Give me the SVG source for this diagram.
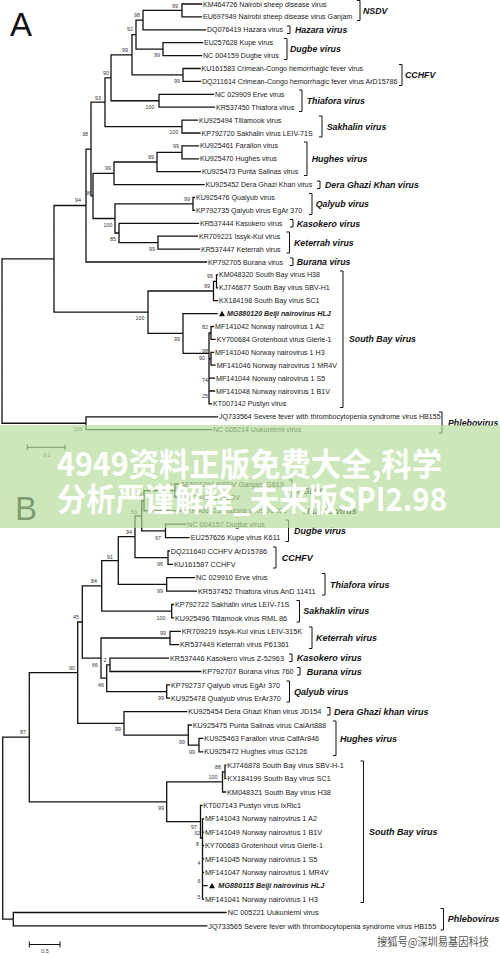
<svg xmlns="http://www.w3.org/2000/svg" width="500" height="954" viewBox="0 0 500 954">
<style>
.bg{fill:#fff}
.e{fill:none;stroke:#111;stroke-width:1.3;stroke-linecap:square}
.br{fill:none;stroke:#111;stroke-width:1}
.t{font-family:"Liberation Sans",Arial,sans-serif;font-size:7.1px;fill:#1a1a1a}
.tb{font-size:7.3px}
.bi{font-weight:bold;font-style:italic}
.c{font-family:"Liberation Sans",Arial,sans-serif;font-size:8.8px;font-weight:bold;font-style:italic;fill:#111}
.cb{font-size:9px}
.bs{font-family:"Liberation Sans",Arial,sans-serif;font-size:5.3px;fill:#333;text-anchor:middle}
.pl{font-family:"Liberation Sans",Arial,sans-serif;font-size:33px;fill:#111}
.wm{font-family:"Noto Sans CJK SC","Noto Sans",sans-serif;font-weight:bold;font-size:32px;fill:#fff}
</style>
<rect class="bg" x="0" y="0" width="500" height="954"/>
<text class="pl" x="10" y="36">A</text>
<text class="pl" x="15" y="520">B</text>

<g id="connectors">
<path class="e" d="
M2,258.85V423.25 M2,258.85H54 M2,423.25H86
M86,416.8V429.7 M86,416.8H217.5 M86,429.7H211.5
M54,205.5V312.2 M54,205.5H86 M54,312.2H148
M86,149.05V262 M86,149.05H91 M86,262H206.5
M91,102.2V195.9 M91,102.2H105 M91,195.9H93
M93,173.3V218.5 M93,173.3H114 M93,218.5H115
M115,203.95V233 M115,203.95H193 M115,233H119
M119,223.3V242.65 M119,223.3H198.5 M119,242.65H158
M158,236.2V249.1 M158,236.2H197.5 M158,249.1H199.5
M193,197.5V210.4 M193,197.5H194.5 M193,210.4H194.5
M114,162V184.6 M114,162H157 M114,184.6H204
M157,152.35V171.7 M157,152.35H182 M157,171.7H200.5
M182,145.9V158.8 M182,145.9H198.5 M182,158.8H198.5
M105,77.8V126.55 M105,77.8H111 M105,126.55H182
M182,120.1V133 M182,120.1H197.5 M182,133H200
M111,54.8V100.75 M111,54.8H132 M111,100.75H159
M159,94.3V107.2 M159,94.3H213.5 M159,107.2H214.5
M132,34.6V74.95 M132,34.6H136 M132,74.95H183
M183,68.5V81.4 M183,68.5H200 M183,81.4H200.5
M136,20.1V49.15 M136,20.1H143 M136,49.15H163
M163,42.7V55.6 M163,42.7H202.5 M163,55.6H201.5
M143,10.45V29.8 M143,10.45H182 M143,29.8H205.5
M182,4V16.9 M182,4H201.5 M182,16.9H201.5
M148,291V333.45 M148,291H213.5 M148,333.45H183
M213.5,281.35V300.7 M213.5,281.35H216.5 M213.5,300.7H217.5
M216.5,274.9V287.8 M216.5,274.9H217.5 M216.5,287.8H217.5
M183,313.6V353.3 M183,313.6H217 M183,353.3H209
M211,326.5V339.4 M209,333H211 M209,333V403.9
M211,326.5H213.5 M211,339.4H215 M211,352.3V365.2 M209,358.75H211 M211,352.3H213.5 M211,365.2H215
M209,378.1H214.5 M209,391H214.5 M209,403.9H211.5
"/>
<path class="e" d="
M2.7,737.2V919.2 M2.7,737.2H29.3 M2.7,919.2H13.3
M13.3,912.5V925.9 M13.3,912.5H226 M13.3,925.9H206.8
M29.3,672.65V801.8 M29.3,672.65H77.7 M29.3,801.8H166.7
M77.7,622V723.3 M77.7,622H82.3 M77.7,723.3H124
M82.3,585.9V658.1 M82.3,585.9H101.7 M82.3,658.1H101
M101.7,560.55V611.2 M101.7,560.55H118.3 M101.7,611.2H171.7
M118.3,536.7V584.4 M118.3,536.7H135 M118.3,584.4H166.7
M135,515.8V557.65 M135,515.8H141.7 M135,557.65H168
M141.7,500.75V530.9 M141.7,500.75H144 M141.7,530.9H165.5
M144,490.7V510.8 M144,490.7H175 M144,510.8H185.5
M175,484V497.4 M175,484H179 M175,497.4H179.5
M165.5,524.2V537.6 M165.5,524.2H185.5 M165.5,537.6H189
M168,551V564.3 M168,551H169.2 M168,564.3H172.5
M166.7,577.7V591.1 M166.7,577.7H194.5 M166.7,591.1H196.5
M171.7,604.5V617.9 M171.7,604.5H173.5 M171.7,617.9H173.5
M101,638V678.2 M101,638H170 M101,678.2H106.7
M170,631.3V644.7 M170,631.3H180.2 M170,644.7H178.5
M106.7,664.8V691.55 M106.7,664.8H110 M106.7,691.55H166.7
M110,658.1V671.5 M110,658.1H168.5 M110,671.5H200.8
M166.7,684.9V698.2 M166.7,684.9H169.5 M166.7,698.2H169.5
M124,711.6V735.05 M124,711.6H186.8 M124,735.05H188.3
M188.3,725V745.1 M188.3,725H191.2 M188.3,745.1H199
M199,738.4V751.8 M199,738.4H202.8 M199,751.8H202.8
M166.7,781.95V821.7 M166.7,781.95H222.5 M166.7,821.7H200.5
M222.5,771.9V792 M222.5,771.9H225 M222.5,792H225.5
M225,765.2V778.6 M225,765.2H225.8 M225,778.6H225.8
M200.5,805.4V838 M200.5,805.4H202 M200.5,838H202.5
M202.5,818.8V899.1 M202.5,818.8H203.5 M202.5,832.1H203.5 M202.5,845.5H203.5 M202.5,858.9H203.5 M202.5,872.3H203.5 M202.5,885.7H207 M202.5,899.1H203.5
"/>
<path class="br" d="M27.3,447.3H65 M27.3,444.5V450 M65,444.5V450 M29.3,944.5H60 M29.3,941.5V947.5 M60,941.5V947.5" stroke-width="1.2"/>
<polygon points="219,316.2 222,310.8 225,316.2" fill="#111"/>
<polygon points="209,888.3 212,882.9 215,888.3" fill="#111"/>
</g>

<g id="bootstrap">
<text class="bs" x="175" y="8">99</text>
<text class="bs" x="137" y="17">98</text>
<text class="bs" x="130" y="31">92</text>
<text class="bs" x="157" y="57">99</text>
<text class="bs" x="125" y="52">99</text>
<text class="bs" x="177" y="83">99</text>
<text class="bs" x="106" y="75">90</text>
<text class="bs" x="150" y="109">100</text>
<text class="bs" x="98" y="100">93</text>
<text class="bs" x="174" y="134">100</text>
<text class="bs" x="85" y="136">38</text>
<text class="bs" x="176" y="148">99</text>
<text class="bs" x="151" y="159">99</text>
<text class="bs" x="108" y="170">99</text>
<text class="bs" x="78" y="202">94</text>
<text class="bs" x="88" y="195">36</text>
<text class="bs" x="187" y="201">99</text>
<text class="bs" x="108" y="227">100</text>
<text class="bs" x="113" y="241">85</text>
<text class="bs" x="152" y="251">99</text>
<text class="bs" x="210" y="278">95</text>
<text class="bs" x="207" y="288">99</text>
<text class="bs" x="140" y="320">100</text>
<text class="bs" x="177" y="341">99</text>
<text class="bs" x="205" y="329">82</text>
<text class="bs" x="205" y="353">98</text>
<text class="bs" x="202" y="360">90</text>
<text class="bs" x="205" y="382">74</text>
<text class="bs" x="205" y="398">25</text>
<text class="bs" x="78" y="431">100</text>
<text class="bs" x="47" y="457">0.1</text>
<text class="bs" x="170" y="487">95</text>
<text class="bs" x="139" y="496">99</text>
<text class="bs" x="134" y="514">53</text>
<text class="bs" x="158" y="540">97</text>
<text class="bs" x="129" y="534">94</text>
<text class="bs" x="160" y="566">96</text>
<text class="bs" x="110" y="559">91</text>
<text class="bs" x="160" y="593">99</text>
<text class="bs" x="94" y="583">84</text>
<text class="bs" x="161" y="620">100</text>
<text class="bs" x="76" y="619">45</text>
<text class="bs" x="163" y="635">99</text>
<text class="bs" x="95" y="667">66</text>
<text class="bs" x="105" y="662">2</text>
<text class="bs" x="101" y="687">46</text>
<text class="bs" x="161" y="700">99</text>
<text class="bs" x="72" y="670">90</text>
<text class="bs" x="118" y="731">99</text>
<text class="bs" x="182" y="744">99</text>
<text class="bs" x="192" y="754">99</text>
<text class="bs" x="23" y="734">87</text>
<text class="bs" x="218" y="769">88</text>
<text class="bs" x="213" y="779">100</text>
<text class="bs" x="161" y="810">99</text>
<text class="bs" x="194" y="829">97</text>
<text class="bs" x="197" y="835">32</text>
<text class="bs" x="197.5" y="846">8</text>
<text class="bs" x="199" y="865">4</text>
<text class="bs" x="199" y="883">6</text>
<text class="bs" x="199" y="899">5</text>
<text class="bs" x="45" y="953">0.5</text>
</g>

<g id="tipsA">
<g id="a0"><text class="t" x="203" y="6.5">KM464726 Nairobi sheep disease virus</text></g>
<g id="a1"><text class="t" x="203" y="19.4">EU697949 Nairobi sheep disease virus Ganjam</text></g>
<g id="a2"><text class="t" x="207" y="32.3">DQ076419 Hazara virus</text></g>
<g id="a3"><text class="t" x="204" y="45.2">EU257628 Kupe virus</text></g>
<g id="a4"><text class="t" x="203" y="58.1">NC 004159 Dugbe virus</text></g>
<g id="a5"><text class="t" x="201.5" y="71">KU161583 Crimean-Congo hemorrhagic fever virus</text></g>
<g id="a6"><text class="t" x="202" y="83.9">DQ211614 Crimean-Congo hemorrhagic fever virus ArD15786</text></g>
<g id="a7"><text class="t" x="215" y="96.8">NC 029909 Erve virus</text></g>
<g id="a8"><text class="t" x="216" y="109.7">KR537450 Thiafora virus</text></g>
<g id="a9"><text class="t" x="199" y="122.6">KU925494 Tillamook virus</text></g>
<g id="a10"><text class="t" x="201.5" y="135.5">KP792720 Sakhalin virus LEIV-71S</text></g>
<g id="a11"><text class="t" x="200" y="148.4">KU925461 Farallon virus</text></g>
<g id="a12"><text class="t" x="200" y="161.3">KU925470 Hughes virus</text></g>
<g id="a13"><text class="t" x="202" y="174.2">KU925473 Punta Salinas virus</text></g>
<g id="a14"><text class="t" x="205.5" y="187.1">KU925452 Dera Ghazi Khan virus</text></g>
<g id="a15"><text class="t" x="196" y="200">KU925476 Qualyub virus</text></g>
<g id="a16"><text class="t" x="196" y="212.9">KP792735 Qalyub virus EgAr 370</text></g>
<g id="a17"><text class="t" x="200" y="225.8">KR537444 Kasokero virus</text></g>
<g id="a18"><text class="t" x="199" y="238.7">KR709221 Issyk-Kul virus</text></g>
<g id="a19"><text class="t" x="201" y="251.6">KR537447 Keterrah virus</text></g>
<g id="a20"><text class="t" x="208" y="264.5">KP792705 Burana virus</text></g>
<g id="a21"><text class="t" x="219" y="277.4">KM048320 South Bay virus H38</text></g>
<g id="a22"><text class="t" x="219" y="290.3">KJ746877 South Bay virus SBV-H1</text></g>
<g id="a23"><text class="t" x="219" y="303.2">KX184198 South Bay virus SC1</text></g>
<g id="a24"><text class="t bi" x="227" y="316.1">MG880120 Beiji nairovirus HLJ</text></g>
<g id="a25"><text class="t" x="215" y="329">MF141042 Norway nairovirus 1 A2</text></g>
<g id="a26"><text class="t" x="216.7" y="341.9">KY700684 Grotenhout virus Gierle-1</text></g>
<g id="a27"><text class="t" x="215" y="354.8">MF141040 Norway nairovirus 1 H3</text></g>
<g id="a28"><text class="t" x="216.7" y="367.7">MF141046 Norway nairovirus 1 MR4V</text></g>
<g id="a29"><text class="t" x="216" y="380.6">MF141044 Norway nairovirus 1 S5</text></g>
<g id="a30"><text class="t" x="216" y="393.5">MF141048 Norway nairovirus 1 B1V</text></g>
<g id="a31"><text class="t" x="213" y="406.4">KT007142 Pustyn virus</text></g>
<g id="a32"><text class="t" x="219" y="419.3">JQ733564 Severe fever with thrombocytopenia syndrome virus HB155</text></g>
<g id="a33"><text class="t" x="213" y="432.2">NC 005214 Uukuniemi virus</text></g>
</g>

<g id="tipsB">
<g id="b0"><text class="t tb" x="180.5" y="486.6">AF504294 NSDV Ganjam G619</text></g>
<g id="b1"><text class="t tb" x="181" y="500">NC 034521 NSDV</text></g>
<g id="b2"><text class="t tb" x="187" y="513.4">KP406725 Hazara virus JC280</text></g>
<g id="b3"><text class="t tb" x="187" y="526.8">NC 004157 Dugbe virus</text></g>
<g id="b4"><text class="t tb" x="190.7" y="540.2">EU257626 Kupe virus K611</text></g>
<g id="b5"><text class="t tb" x="170.7" y="553.6">DQ211640 CCHFV ArD15786</text></g>
<g id="b6"><text class="t tb" x="174" y="566.9">KU161587 CCHFV</text></g>
<g id="b7"><text class="t tb" x="196" y="580.3">NC 029910 Erve virus</text></g>
<g id="b8"><text class="t tb" x="198" y="593.7">KR537452 Thiafora virus AnD 11411</text></g>
<g id="b9"><text class="t tb" x="175" y="607.1">KP792722 Sakhalin virus LEIV-71S</text></g>
<g id="b10"><text class="t tb" x="175" y="620.5">KU925496 Tillamook virus RML 86</text></g>
<g id="b11"><text class="t tb" x="181.7" y="633.9">KR709219 Issyk-Kul virus LEIV-315K</text></g>
<g id="b12"><text class="t tb" x="180" y="647.3">KR537449 Keterrah virus P61361</text></g>
<g id="b13"><text class="t tb" x="170" y="660.7">KR537446 Kasokero virus Z-52963</text></g>
<g id="b14"><text class="t tb" x="202.3" y="674.1">KP792707 Burana virus 760</text></g>
<g id="b15"><text class="t tb" x="171" y="687.5">KP792737 Qalyub virus EgAr 370</text></g>
<g id="b16"><text class="t tb" x="171" y="700.8">KU925478 Qualyub virus ErAr370</text></g>
<g id="b17"><text class="t tb" x="188.3" y="714.2">KU925454 Dera Ghazi Khan virus JD154</text></g>
<g id="b18"><text class="t tb" x="192.7" y="727.6">KU925475 Punta Salinas virus CalArt888</text></g>
<g id="b19"><text class="t tb" x="204.3" y="741">KU925463 Farallon virus CalfAr846</text></g>
<g id="b20"><text class="t tb" x="204.3" y="754.4">KU925472 Hughes virus G2126</text></g>
<g id="b21"><text class="t tb" x="227.3" y="767.8">KJ746878 South Bay virus SBV-H-1</text></g>
<g id="b22"><text class="t tb" x="227.3" y="781.2">KX184199 South Bay virus SC1</text></g>
<g id="b23"><text class="t tb" x="227" y="794.6">KM048321 South Bay virus H38</text></g>
<g id="b24"><text class="t tb" x="203.3" y="808">KT007143 Pustyn virus IxRic1</text></g>
<g id="b25"><text class="t tb" x="205" y="821.4">MF141043 Norway nairovirus 1 A2</text></g>
<g id="b26"><text class="t tb" x="205" y="834.7">MF141049 Norway nairovirus 1 B1V</text></g>
<g id="b27"><text class="t tb" x="205" y="848.1">KY700683 Grotenhout virus Gierle-1</text></g>
<g id="b28"><text class="t tb" x="205" y="861.5">MF141045 Norway nairovirus 1 S5</text></g>
<g id="b29"><text class="t tb" x="205" y="874.9">MF141047 Norway nairovirus 1 MR4V</text></g>
<g id="b30"><text class="t tb bi" x="218.3" y="888.3">MG880115 Beiji nairovirus HLJ</text></g>
<g id="b31"><text class="t tb" x="205" y="901.7">MF141041 Norway nairovirus 1 H3</text></g>
<g id="b32"><text class="t tb" x="227.7" y="915.1">NC 005221 Uukuniemi virus</text></g>
<g id="b33"><text class="t tb" x="208.3" y="928.5">JQ733565 Severe fever with thrombocytopenia syndrome virus HB155</text></g>
</g>

<g id="cladesA">
<path class="br" d="M357,0.5H360V20.5H357 M287,26H290V33.5H287 M284,38.5H287V59.5H284 M399,64.5H402V85.5H399 M299,90H302V111.5H299 M319,116H322V137H319 M304,142H307V175.5H304 M317,181H320V188.5H317 M309,193.5H312V214.5H309 M290,219.5H293V227H290 M286.5,232H289.5V253H286.5 M290,258H293V265.5H290 M340,271H343V407.5H340 M439,412H442V433H439"/>
<text class="c" x="363" y="13.7">NSDV</text>
<text class="c" x="295" y="33">Hazara virus</text>
<text class="c" x="290" y="52.2">Dugbe virus</text>
<text class="c" x="405" y="78.2">CCHFV</text>
<text class="c" x="306.7" y="104">Thiafora virus</text>
<text class="c" x="326.7" y="129.7">Sakhalin virus</text>
<text class="c" x="311.7" y="162">Hughes virus</text>
<text class="c" x="325" y="187.8">Dera Ghazi Khan virus</text>
<text class="c" x="315.7" y="207.2">Qalyub virus</text>
<text class="c" x="296.7" y="226.5">Kasokero virus</text>
<text class="c" x="294" y="245.8">Keterrah virus</text>
<text class="c" x="296.7" y="265.2">Burana virus</text>
<text class="c" x="349" y="342.2">South Bay virus</text>
<text class="c" x="448" y="426.2">Phlebovirus</text>
</g>

<g id="cladesB">
<path class="br" d="M289,480H292V501.5H289 M292.5,507H295.5V514.5H292.5 M285.5,520H288.5V541.5H285.5 M273,547H276V568H273 M322,573.5H325V595H322 M296.5,600.5H299.5V622H296.5 M309,627H312V648.5H309 M289,654H292V661.5H289 M297,667.5H300V675H297 M286.5,681H289.5V702H286.5 M327,707.5H330V715H327 M333,721H336V755.5H333 M360.5,761H363.5V902.5H360.5 M440.5,908.5H443.5V930H440.5"/>
<text class="c cb" x="297" y="494.2">NSDV</text>
<text class="c cb" x="303.3" y="514.2">Hazara virus</text>
<text class="c cb" x="294" y="534.2">Dugbe virus</text>
<text class="c cb" x="281.7" y="560.9">CCHFV</text>
<text class="c cb" x="330" y="587.6">Thiafora virus</text>
<text class="c cb" x="303.3" y="614.4">Sakhaklin virus</text>
<text class="c cb" x="316" y="641.2">Keterrah virus</text>
<text class="c cb" x="296.7" y="661.3">Kasokero virus</text>
<text class="c cb" x="306.7" y="674.7">Burana virus</text>
<text class="c cb" x="294" y="694.7">Qalyub virus</text>
<text class="c cb" x="334" y="714.8">Dera Ghazi khan virus</text>
<text class="c cb" x="340" y="741.6">Hughes virus</text>
<text class="c cb" x="369" y="835.2">South Bay virus</text>
<text class="c cb" x="447.7" y="922.4">Phlebovirus</text>
</g>

<g id="watermark">
<rect x="0" y="425" width="500" height="103" fill="#b4dc9a" opacity="0.68"/>
<text class="wm" x="57" y="476" textLength="385" lengthAdjust="spacingAndGlyphs">4949资料正版免费大全,科学</text>
<text class="wm" x="57" y="511" textLength="390" lengthAdjust="spacingAndGlyphs">分析严谨解释_未来版SPI2.98</text>
<text x="377" y="946" font-family="'Noto Sans CJK SC',sans-serif" font-size="11" fill="#555" stroke="#fff" stroke-width="1.5" paint-order="stroke" textLength="112" lengthAdjust="spacingAndGlyphs">搜狐号@深圳易基因科技</text>
</g>
</svg>
